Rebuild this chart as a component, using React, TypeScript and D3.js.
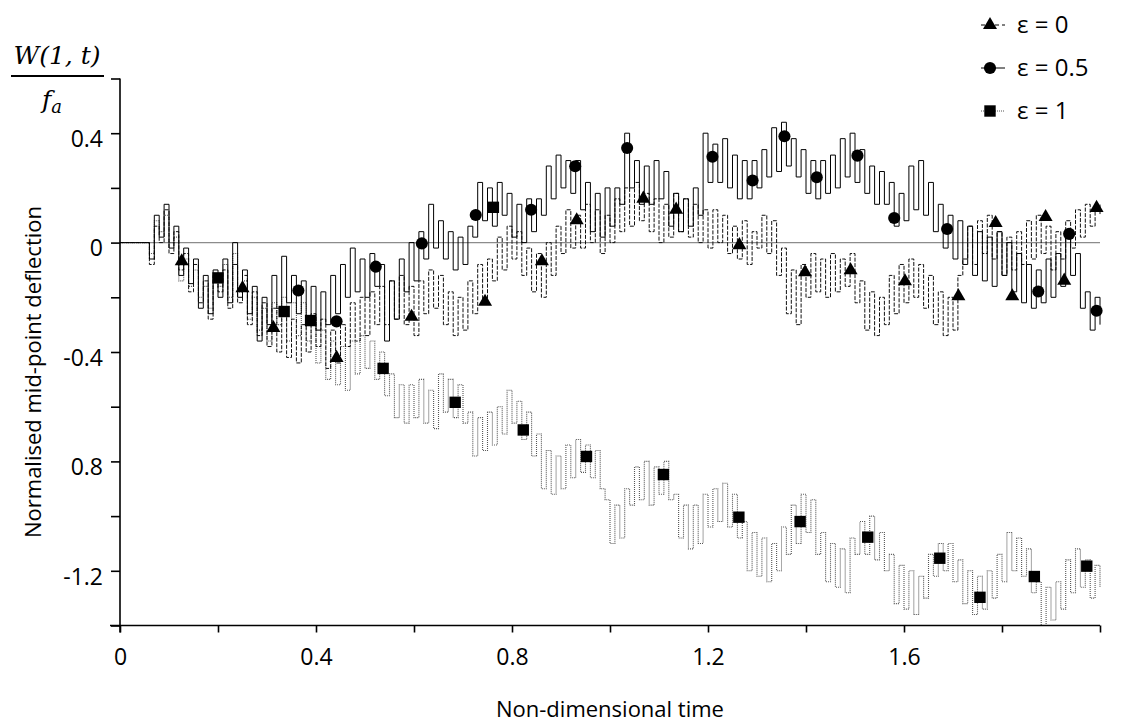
import React, { useEffect, useRef } from 'react';
import * as d3 from 'd3';

// sampled every 0.01 of non-dimensional time, t = 0 .. 2
const timeStep = 0.01;

const epsHalf = [
  0, 0, 0, 0, 0, 0, -0.06, 0.1, 0.02, 0.14,
  -0.02, 0.06, -0.12, -0.02, -0.15, -0.06, -0.24, -0.12, -0.26, -0.1,
  -0.2, -0.06, -0.22, 0.0, -0.2, -0.1, -0.26, -0.16, -0.36, -0.2,
  -0.3, -0.12, -0.24, -0.05, -0.22, -0.12, -0.26, -0.14, -0.3, -0.16,
  -0.32, -0.18, -0.3, -0.12, -0.26, -0.08, -0.2, -0.02, -0.18, -0.06,
  -0.2, -0.04, -0.16, -0.08, -0.36, -0.14, -0.28, -0.06, -0.18, 0.0,
  -0.14, 0.04, -0.06, 0.14, -0.02, 0.08, -0.06, 0.04, -0.1, 0.02,
  -0.08, 0.06, 0.02, 0.22, 0.08, 0.2, 0.06, 0.22, 0.1, 0.18,
  0.02, 0.14, 0.0, 0.16, 0.04, 0.16, 0.1, 0.28, 0.16, 0.32,
  0.2, 0.3, 0.18, 0.3, 0.12, 0.22, 0.04, 0.18, 0.02, 0.2,
  0.06, 0.2, 0.14, 0.4, 0.2, 0.3, 0.14, 0.28, 0.14, 0.3,
  0.16, 0.26, 0.06, 0.18, 0.04, 0.16, 0.06, 0.2, 0.1, 0.4,
  0.22, 0.36, 0.22, 0.38, 0.2, 0.32, 0.16, 0.3, 0.16, 0.3,
  0.2, 0.34, 0.24, 0.42, 0.26, 0.44, 0.28, 0.38, 0.24, 0.34,
  0.18, 0.3, 0.16, 0.3, 0.18, 0.32, 0.2, 0.38, 0.24, 0.4,
  0.22, 0.34, 0.18, 0.28, 0.14, 0.26, 0.14, 0.22, 0.06, 0.18,
  0.08, 0.28, 0.12, 0.3, 0.1, 0.22, 0.04, 0.14, -0.02, 0.1,
  -0.06, 0.08, -0.08, 0.06, -0.12, 0.04, -0.14, 0.02, -0.16, 0.04,
  -0.12, 0.0, -0.18, -0.04, -0.22, -0.08, -0.24, -0.1, -0.22, -0.06,
  -0.2, -0.04, -0.16, 0.04, -0.12, -0.04, -0.24, -0.18, -0.32, -0.2,
  -0.3
];

const epsZero = [
  0, 0, 0, 0, 0, 0, -0.08, 0.06, 0.0, 0.12,
  -0.04, 0.04, -0.1, -0.04, -0.18, -0.08, -0.22, -0.14, -0.28, -0.12,
  -0.18, -0.1, -0.24, -0.08, -0.22, -0.12, -0.3, -0.18, -0.34, -0.22,
  -0.38, -0.24, -0.4, -0.26, -0.42, -0.28, -0.44, -0.3, -0.4, -0.26,
  -0.38, -0.28, -0.46, -0.32, -0.44, -0.3, -0.38, -0.22, -0.36, -0.2,
  -0.34, -0.18, -0.3, -0.16, -0.3, -0.14, -0.28, -0.12, -0.3, -0.16,
  -0.34, -0.14, -0.26, -0.1, -0.24, -0.12, -0.3, -0.18, -0.34, -0.2,
  -0.32, -0.14, -0.26, -0.08, -0.22, -0.06, -0.14, 0.02, -0.1, 0.06,
  -0.06, 0.04, -0.12, -0.02, -0.18, -0.04, -0.2, 0.0, -0.12, 0.06,
  -0.04, 0.12, -0.02, 0.1, -0.02, 0.14, 0.0, 0.12, -0.04, 0.1,
  0.0, 0.16, 0.04, 0.2, 0.06, 0.22, 0.08, 0.18, 0.04, 0.16,
  0.0, 0.14, 0.02, 0.18, 0.04, 0.16, 0.02, 0.14, 0.0, 0.12,
  -0.02, 0.12, 0.0, 0.1, -0.04, 0.06, -0.06, 0.08, -0.08, 0.04,
  -0.02, 0.1, -0.04, 0.08, -0.12, -0.02, -0.26, -0.1, -0.3, -0.08,
  -0.2, -0.04, -0.18, -0.06, -0.2, -0.04, -0.18, -0.06, -0.16, -0.04,
  -0.22, -0.14, -0.32, -0.18, -0.34, -0.2, -0.3, -0.12, -0.26, -0.08,
  -0.22, -0.06, -0.2, -0.08, -0.24, -0.12, -0.3, -0.18, -0.34, -0.2,
  -0.32, -0.12, -0.06, 0.06, -0.08, 0.08, -0.04, 0.1, -0.06, 0.04,
  -0.12, 0.02, -0.1, 0.04, -0.08, 0.08, -0.06, 0.1, -0.04, 0.06,
  -0.1, 0.04, -0.06, 0.08, -0.02, 0.12, 0.02, 0.14, 0.06, 0.14,
  0.1
];

const epsOne = [
  0, 0, 0, 0, 0, 0, -0.04, 0.08, 0.04, 0.1,
  0.0, 0.02, -0.14, -0.06, -0.16, -0.1, -0.2, -0.16, -0.24, -0.14,
  -0.16, -0.08, -0.2, -0.04, -0.18, -0.14, -0.28, -0.2, -0.32, -0.24,
  -0.36, -0.22, -0.3, -0.2, -0.36, -0.22, -0.34, -0.22, -0.36, -0.28,
  -0.44, -0.32, -0.5, -0.36, -0.52, -0.38, -0.54, -0.36, -0.48, -0.34,
  -0.46, -0.36, -0.5, -0.4, -0.56, -0.48, -0.64, -0.52, -0.66, -0.52,
  -0.64, -0.5, -0.66, -0.54, -0.68, -0.48, -0.62, -0.5, -0.64, -0.52,
  -0.66, -0.62, -0.78, -0.64, -0.76, -0.62, -0.74, -0.6, -0.7, -0.54,
  -0.66, -0.58, -0.72, -0.62, -0.78, -0.7, -0.9, -0.76, -0.92, -0.78,
  -0.9, -0.74, -0.86, -0.72, -0.84, -0.74, -0.86, -0.76, -0.9, -0.94,
  -1.1, -0.96, -1.08, -0.9, -0.96, -0.82, -0.94, -0.8, -0.96, -0.82,
  -0.92, -0.8, -0.94, -0.92, -1.08, -0.96, -1.12, -0.96, -1.1, -0.92,
  -1.04, -0.9, -1.02, -0.88, -1.04, -0.92, -1.08, -1.02, -1.2, -1.06,
  -1.22, -1.08, -1.24, -1.1, -1.2, -1.04, -1.14, -0.96, -1.1, -0.92,
  -1.06, -0.94, -1.14, -1.06, -1.24, -1.1, -1.26, -1.12, -1.28, -1.08,
  -1.14, -1.02, -1.14, -1.0, -1.16, -1.06, -1.2, -1.14, -1.32, -1.18,
  -1.34, -1.2, -1.36, -1.22, -1.3, -1.14, -1.22, -1.1, -1.2, -1.1,
  -1.24, -1.16, -1.32, -1.2, -1.36, -1.22, -1.34, -1.2, -1.3, -1.14,
  -1.24, -1.06, -1.2, -1.08, -1.22, -1.12, -1.28, -1.24, -1.4, -1.26,
  -1.38, -1.24, -1.34, -1.16, -1.28, -1.12, -1.26, -1.16, -1.3, -1.18,
  -1.26
];

// marker positions (time, value)
const triangleT = [0.126, 0.25, 0.313, 0.442, 0.595, 0.745, 0.861, 0.932, 1.068, 1.135, 1.264, 1.398, 1.491, 1.602, 1.711, 1.787, 1.821, 1.889, 1.927, 1.993];
const triangleV = [-0.072, -0.17, -0.316, -0.425, -0.275, -0.22, -0.072, 0.078, 0.157, 0.117, -0.013, -0.112, -0.105, -0.145, -0.2, 0.068, -0.2, 0.09, -0.143, 0.123];
const circleT = [0.364, 0.442, 0.522, 0.616, 0.726, 0.839, 0.929, 1.035, 1.209, 1.291, 1.356, 1.422, 1.505, 1.58, 1.688, 1.874, 1.937, 1.993];
const circleV = [-0.175, -0.288, -0.088, -0.003, 0.101, 0.12, 0.279, 0.346, 0.314, 0.227, 0.389, 0.239, 0.318, 0.09, 0.05, -0.179, 0.032, -0.249];
const squareT = [0.2, 0.335, 0.389, 0.537, 0.684, 0.762, 0.823, 0.952, 1.109, 1.263, 1.388, 1.526, 1.673, 1.755, 1.866, 1.973];
const squareV = [-0.129, -0.252, -0.285, -0.46, -0.584, 0.129, -0.685, -0.782, -0.848, -1.004, -1.02, -1.077, -1.154, -1.297, -1.221, -1.183];

const xTicks = [0, 0.2, 0.4, 0.6, 0.8, 1.0, 1.2, 1.4, 1.6, 1.8, 2.0];
const xTickLabels = ['0', '', '0.4', '', '0.8', '', '1.2', '', '1.6', '', ''];
const yTicks = [0.6, 0.4, 0.2, 0, -0.2, -0.4, -0.6, -0.8, -1.0, -1.2, -1.4];
const yTickLabels = ['', '0.4', '', '0', '', '-0.4', '', '0.8', '', '-1.2', ''];

const legendLabels = ['ε = 0', 'ε = 0.5', 'ε = 1'];

const font = "'Open Sans', 'Liberation Sans', sans-serif";

const Chart = () => {
  const svgRef = useRef(null);

  useEffect(() => {
    const width = 1121;
    const height = 728;
    const margin = { top: 78.5, right: 21, bottom: 102.5, left: 120 };

    const svg = d3.select(svgRef.current)
      .attr("width", width)
      .attr("height", height);
    svg.selectAll("*").remove();

    const x = d3.scaleLinear().domain([0, 2]).range([margin.left, width - margin.right]);
    const y = d3.scaleLinear().domain([-1.4, 0.6]).range([height - margin.bottom, margin.top]);

    // zero line
    svg.append("line")
      .attr("x1", x(0)).attr("x2", x(2))
      .attr("y1", y(0)).attr("y2", y(0))
      .attr("stroke", "#8c8c8c")
      .attr("stroke-width", 1.2);

    const line = d3.line<number>()
      .x((d, i) => x(i * timeStep))
      .y(d => y(d))
      .curve(d3.curveStepAfter);

    const series = [
      { data: epsOne, stroke: "#555", dash: "1,1", width: 1.1 },
      { data: epsZero, stroke: "#111", dash: "4,1.5", width: 1 },
      { data: epsHalf, stroke: "#000", dash: null, width: 1 },
    ];

    series.forEach(s => {
      svg.append("path")
        .datum(s.data)
        .attr("d", line)
        .attr("fill", "none")
        .attr("stroke", s.stroke)
        .attr("stroke-width", s.width)
        .attr("stroke-dasharray", s.dash);
    });

    // markers
    const tri = d3.symbol().type(d3.symbolTriangle).size(85);
    const sq = d3.symbol().type(d3.symbolSquare).size(130);
    const circ = d3.symbol().type(d3.symbolCircle).size(115);

    svg.append("g").selectAll("path")
      .data(triangleT)
      .enter().append("path")
      .attr("d", tri)
      .attr("transform", (d, i) => `translate(${x(d)},${y(triangleV[i]) - 1})`)
      .attr("fill", "#000");

    svg.append("g").selectAll("path")
      .data(circleT)
      .enter().append("path")
      .attr("d", circ)
      .attr("transform", (d, i) => `translate(${x(d)},${y(circleV[i])})`)
      .attr("fill", "#000");

    svg.append("g").selectAll("path")
      .data(squareT)
      .enter().append("path")
      .attr("d", sq)
      .attr("transform", (d, i) => `translate(${x(d)},${y(squareV[i])})`)
      .attr("fill", "#000");

    // x axis
    const xAxis = svg.append("g")
      .attr("transform", `translate(0,${y(-1.4)})`)
      .call(d3.axisBottom(x).tickValues(xTicks).tickSize(7).tickFormat((d, i) => xTickLabels[i]));
    xAxis.select(".domain").attr("stroke", "#000").attr("stroke-width", 1.6).attr("d", `M${x(0) - 10},0H${x(2)}`);
    xAxis.selectAll(".tick line").attr("stroke", "#000").attr("stroke-width", 1.6);
    xAxis.selectAll("text")
      .attr("y", 23)
      .attr("fill", "#000")
      .style("font-family", font)
      .style("font-size", "23px");

    // y axis
    const yAxis = svg.append("g")
      .attr("transform", `translate(${x(0)},0)`)
      .call(d3.axisLeft(y).tickValues(yTicks).tickSize(9).tickFormat((d, i) => yTickLabels[i]));
    yAxis.select(".domain").attr("stroke", "#000").attr("stroke-width", 1.6).attr("d", `M0,${y(0.6)}V${y(-1.4) + 7}`);
    yAxis.selectAll(".tick line").attr("stroke", "#000").attr("stroke-width", 1.6);
    yAxis.selectAll("text")
      .attr("x", -17)
      .attr("dy", "0.58em")
      .attr("fill", "#000")
      .style("font-family", font)
      .style("font-size", "23px");

    // axis titles
    svg.append("text")
      .attr("x", x(1))
      .attr("y", 717)
      .attr("text-anchor", "middle")
      .style("font-family", font)
      .style("font-size", "22px")
      .text("Non-dimensional time");

    svg.append("text")
      .attr("transform", `translate(41,372) rotate(-90)`)
      .attr("text-anchor", "middle")
      .style("font-family", font)
      .style("font-size", "22px")
      .text("Normalised mid-point deflection");

    // W(1,t)/f_a fraction
    svg.append("text")
      .attr("x", 57)
      .attr("y", 64)
      .attr("text-anchor", "middle")
      .style("font-family", "'DejaVu Serif', serif")
      .style("font-style", "italic")
      .style("font-size", "25px")
      .text("W(1, t)");
    svg.append("line")
      .attr("x1", 11).attr("x2", 104)
      .attr("y1", 76).attr("y2", 76)
      .attr("stroke", "#000")
      .attr("stroke-width", 2);
    const fa = svg.append("text")
      .attr("x", 52)
      .attr("y", 108)
      .attr("text-anchor", "middle")
      .style("font-family", "'DejaVu Serif', serif")
      .style("font-style", "italic")
      .style("font-size", "25px");
    fa.append("tspan").text("f");
    fa.append("tspan").attr("dy", 5).style("font-size", "18px").text("a");

    // legend
    const rowY = [25, 68, 111];
    const legend = svg.selectAll(".legend")
      .data(legendLabels)
      .enter().append("g")
      .attr("class", "legend")
      .attr("transform", (d, i) => `translate(0,${rowY[i]})`);

    legend.append("line")
      .attr("x1", 981).attr("x2", 1005)
      .attr("y1", 0).attr("y2", 0)
      .attr("stroke", (d, i) => i === 2 ? "#555" : "#000")
      .attr("stroke-width", 1)
      .attr("stroke-dasharray", (d, i) => i === 0 ? "4,3" : i === 2 ? "1,1" : null);

    legend.append("path")
      .attr("d", (d, i) => (i === 0 ? tri : i === 1 ? circ : sq)())
      .attr("transform", "translate(990,0)")
      .attr("fill", "#000");

    legend.append("text")
      .attr("x", 1017)
      .attr("y", 0)
      .attr("dy", "0.35em")
      .style("font-family", font)
      .style("font-size", "24px")
      .text(d => d);
  }, []);

  return <svg ref={svgRef} style={{ display: "block" }}></svg>;
};

export default function App() {
  return (
    <div style={{ position: "absolute", left: 0, top: 0 }}>
      <Chart />
    </div>
  );
}
